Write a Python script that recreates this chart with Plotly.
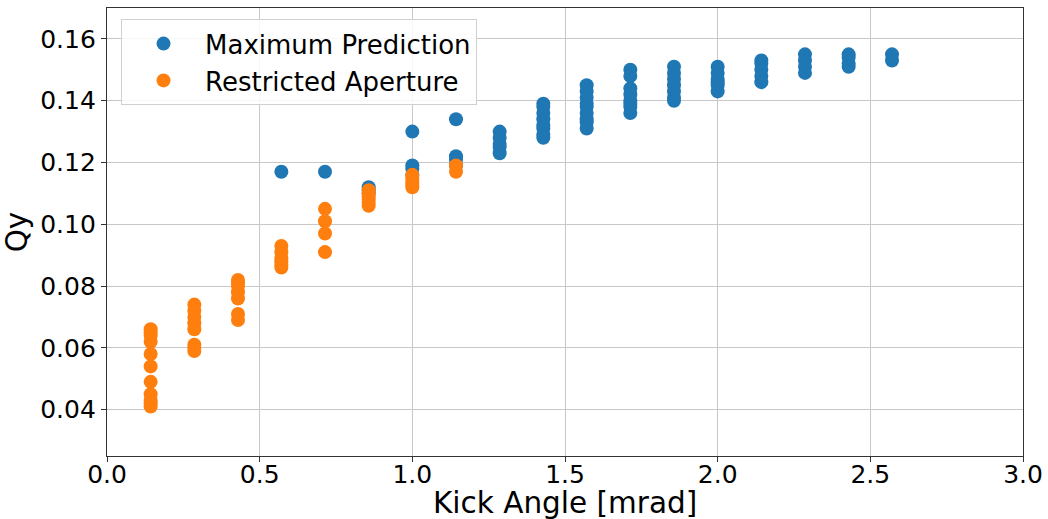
import plotly.graph_objects as go

# Kick angles (mrad), one column per kick
kick_max = [0.571, 0.714, 0.857, 1.0, 1.143, 1.286, 1.429, 1.571, 1.714,
            1.857, 2.0, 2.143, 2.286, 2.429, 2.571]
qy_max = [
    [0.117],
    [0.117],
    [0.112, 0.111, 0.110],
    [0.130, 0.119, 0.118, 0.116],
    [0.134, 0.122, 0.121, 0.119],
    [0.130, 0.128, 0.126, 0.125, 0.123],
    [0.139, 0.138, 0.136, 0.134, 0.132, 0.131, 0.129, 0.128],
    [0.145, 0.143, 0.141, 0.139, 0.138, 0.136, 0.134, 0.133, 0.131],
    [0.150, 0.148, 0.144, 0.142, 0.140, 0.139, 0.138, 0.136],
    [0.151, 0.149, 0.147, 0.145, 0.143, 0.141, 0.140],
    [0.151, 0.149, 0.147, 0.146, 0.145, 0.143],
    [0.153, 0.152, 0.150, 0.148, 0.146],
    [0.155, 0.153, 0.151, 0.149],
    [0.155, 0.154, 0.152, 0.151],
    [0.155, 0.153],
]

kick_res = [0.143, 0.286, 0.429, 0.571, 0.714, 0.857, 1.0, 1.143]
qy_res = [
    [0.066, 0.065, 0.064, 0.062, 0.058, 0.054, 0.049, 0.045, 0.043, 0.042, 0.041],
    [0.074, 0.072, 0.070, 0.068, 0.066, 0.061, 0.060, 0.059],
    [0.082, 0.081, 0.080, 0.078, 0.076, 0.071, 0.069],
    [0.093, 0.091, 0.089, 0.088, 0.087, 0.086],
    [0.105, 0.101, 0.097, 0.091],
    [0.111, 0.110, 0.109, 0.108, 0.107, 0.106],
    [0.116, 0.115, 0.114, 0.113, 0.112],
    [0.119, 0.117],
]

x_ticks = [0.0, 0.5, 1.0, 1.5, 2.0, 2.5, 3.0]
y_ticks = [0.04, 0.06, 0.08, 0.10, 0.12, 0.14, 0.16]
x_title = "Kick Angle [mrad]"
y_title = "Qy"


def flatten(xs, groups):
    fx, fy = [], []
    for x, g in zip(xs, groups):
        for v in g:
            fx.append(x)
            fy.append(v)
    return fx, fy


mx, my = flatten(kick_max, qy_max)
rx, ry = flatten(kick_res, qy_res)

fig = go.Figure()
fig.add_trace(go.Scatter(x=mx, y=my, mode="markers", name="Maximum Prediction",
                         marker=dict(color="#1f77b4", size=14, line=dict(width=0))))
fig.add_trace(go.Scatter(x=rx, y=ry, mode="markers", name="Restricted Aperture",
                         marker=dict(color="#ff7f0e", size=14, line=dict(width=0))))

font_family = "DejaVu Sans"
fig.update_layout(
    width=1048, height=519,
    margin=dict(l=107, r=25, t=8, b=63),
    paper_bgcolor="white", plot_bgcolor="white",
    font=dict(family=font_family, color="black", size=25),
    legend=dict(x=0.0153, y=0.975, xanchor="left", yanchor="top",
                bgcolor="rgba(255,255,255,0.85)", bordercolor="#d0d0d0", borderwidth=1,
                font=dict(size=26, family=font_family), itemwidth=73,
                tracegroupgap=0),
    xaxis=dict(range=[0, 3.0], tickvals=x_ticks, ticktext=[f"{v:.1f}" for v in x_ticks],
               showgrid=True, gridcolor="#c8c8c8", gridwidth=1, zeroline=False,
               showline=True, linecolor="#333333", linewidth=1.2, mirror=True,
               ticks="outside", ticklen=5, tickcolor="#333333", automargin=False,
               ticklabelstandoff=-9),
    yaxis=dict(range=[0.025, 0.17], tickvals=y_ticks, ticktext=[f"{v:.2f}" for v in y_ticks],
               showgrid=True, gridcolor="#c8c8c8", gridwidth=1, zeroline=False,
               showline=True, linecolor="#333333", linewidth=1.2, mirror=True,
               ticks="outside", ticklen=5, tickcolor="#333333", automargin=False,
               title=dict(text=y_title, font=dict(size=29.5), standoff=6)),
    annotations=[dict(text=x_title, xref="paper", yref="paper", x=0.5, y=-0.105,
                      xanchor="center", yanchor="middle", showarrow=False,
                      font=dict(size=29.5, family=font_family, color="black"))],
)

fig.write_html("out.html")
